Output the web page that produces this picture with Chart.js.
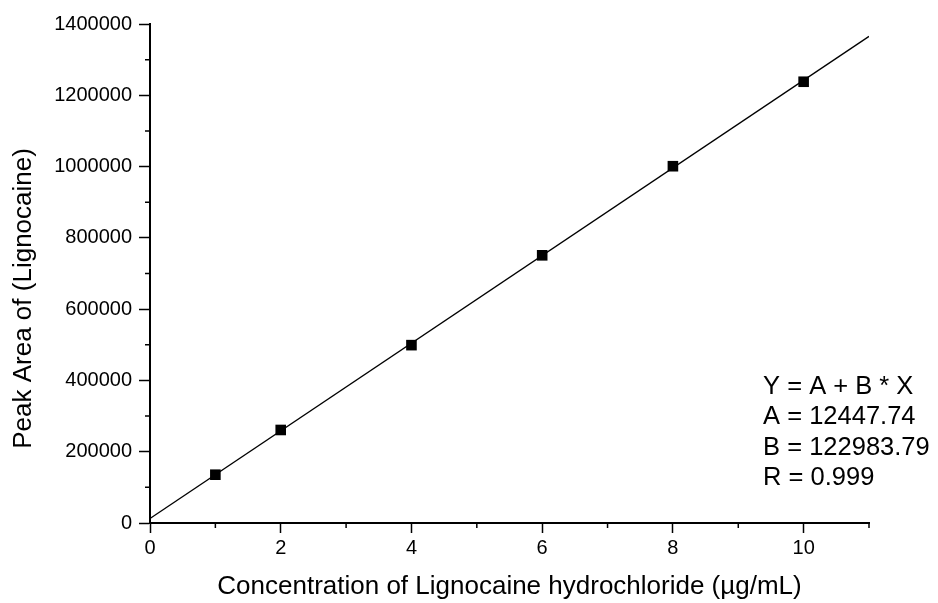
<!DOCTYPE html>
<html>
<head>
<meta charset="utf-8">
<script src="https://cdn.jsdelivr.net/npm/chart.js@4/dist/chart.umd.min.js"></script>
<style>
  html, body { margin: 0; padding: 0; background: #fff; }
  #wrap { width: 938px; height: 603px; position: relative; }
</style>
</head>
<body>
<div id="wrap"><canvas id="c" width="938" height="603"></canvas></div>
<script>
// Data
const concentrations = [1, 2, 4, 6, 8, 10];
const peakAreas = [135500, 261000, 499000, 751000, 1001000, 1238000];
// Fitted line endpoints (from the plotted regression line)
const fitX = [0, 11];
const fitY = [12448, 1365269];
// Annotation text
const fitLines = ['Y = A + B * X', 'A = 12447.74', 'B = 122983.79', 'R = 0.999'];
// Axis labels
const xTitle = 'Concentration of Lignocaine hydrochloride (\u00b5g/mL)';
const yTitle = 'Peak Area of (Lignocaine)';

const FONT = 'Arial, "Liberation Sans", sans-serif';

const minorTicks = {
  id: 'minorTicks',
  afterDraw(chart) {
    const ctx = chart.ctx;
    const xs = chart.scales.x, ys = chart.scales.y;
    ctx.save();
    ctx.strokeStyle = '#000';
    ctx.lineWidth = 1.5;
    ctx.beginPath();
    for (let v = 1; v <= 11; v += 2) {
      const px = xs.getPixelForValue(v);
      ctx.moveTo(px, ys.bottom);
      ctx.lineTo(px, ys.bottom + 5);
    }
    for (let v = 100000; v < 1400000; v += 200000) {
      const py = ys.getPixelForValue(v);
      ctx.moveTo(xs.left, py);
      ctx.lineTo(xs.left - 5, py);
    }
    ctx.stroke();
    ctx.restore();
  }
};

const textPlugin = {
  id: 'fitText',
  afterDraw(chart) {
    const ctx = chart.ctx;
    const xs = chart.scales.x, ys = chart.scales.y;
    // regression annotation
    const x0 = xs.getPixelForValue(9.38);
    const y0 = ys.getPixelForValue(381500);
    ctx.save();
    ctx.fillStyle = '#000';
    ctx.font = '25.5px ' + FONT;
    ctx.textBaseline = 'middle';
    ctx.textAlign = 'left';
    fitLines.forEach((t, i) => ctx.fillText(t, x0, y0 + i * 30.3));
    // y axis title (sits lower than the axis centre in the reference)
    ctx.font = '26px ' + FONT;
    ctx.textAlign = 'center';
    ctx.translate(24, ys.getPixelForValue(630000));
    ctx.rotate(-Math.PI / 2);
    ctx.fillText(yTitle, 0, 0);
    ctx.restore();
  }
};

new Chart(document.getElementById('c'), {
  type: 'scatter',
  data: {
    datasets: [
      {
        type: 'line',
        data: fitX.map((x, i) => ({ x, y: fitY[i] })),
        borderColor: '#000',
        borderWidth: 1.3,
        pointRadius: 0,
        fill: false,
        order: 2
      },
      {
        data: concentrations.map((x, i) => ({ x, y: peakAreas[i] })),
        pointStyle: 'rect',
        pointRadius: 7.5,
        pointBorderWidth: 0,
        backgroundColor: '#000',
        borderColor: '#000',
        order: 1
      }
    ]
  },
  options: {
    responsive: false,
    animation: false,
    devicePixelRatio: 1,
    layout: { padding: { left: 0, top: 24, right: 69, bottom: 0 } },
    plugins: { legend: { display: false }, tooltip: { enabled: false } },
    scales: {
      x: {
        type: 'linear',
        min: 0, max: 11,
        afterFit(s) { s.height = 80; },
        border: { display: true, color: '#000', width: 2 },
        grid: {
          display: true, drawOnChartArea: false, drawTicks: true,
          tickLength: 10, tickWidth: 1.5,
          tickColor: (c) => (c.tick && c.tick.value % 2 === 0) ? '#000' : 'rgba(0,0,0,0)'
        },
        ticks: {
          stepSize: 1, autoSkip: false, maxRotation: 0, padding: 3,
          color: '#000', font: { family: FONT, size: 20 },
          callback: (v) => (v % 2 === 0 ? String(v) : '')
        },
        title: {
          display: true, text: xTitle, color: '#000',
          font: { family: FONT, size: 26 }, padding: { top: 0, bottom: 1 }
        }
      },
      y: {
        type: 'linear',
        min: 0, max: 1400000,
        afterFit(s) { s.width = 150; },
        border: { display: true, color: '#000', width: 2 },
        grid: {
          display: true, drawOnChartArea: false, drawTicks: true,
          tickLength: 11, tickWidth: 1.5,
          tickColor: (c) => (c.tick && c.tick.value % 200000 === 0) ? '#000' : 'rgba(0,0,0,0)'
        },
        ticks: {
          stepSize: 100000, autoSkip: false, padding: 7,
          color: '#000', font: { family: FONT, size: 20 },
          callback: (v) => (v % 200000 === 0 ? String(v) : '')
        },
        title: { display: false }
      }
    }
  },
  plugins: [minorTicks, textPlugin]
});
</script>
</body>
</html>
